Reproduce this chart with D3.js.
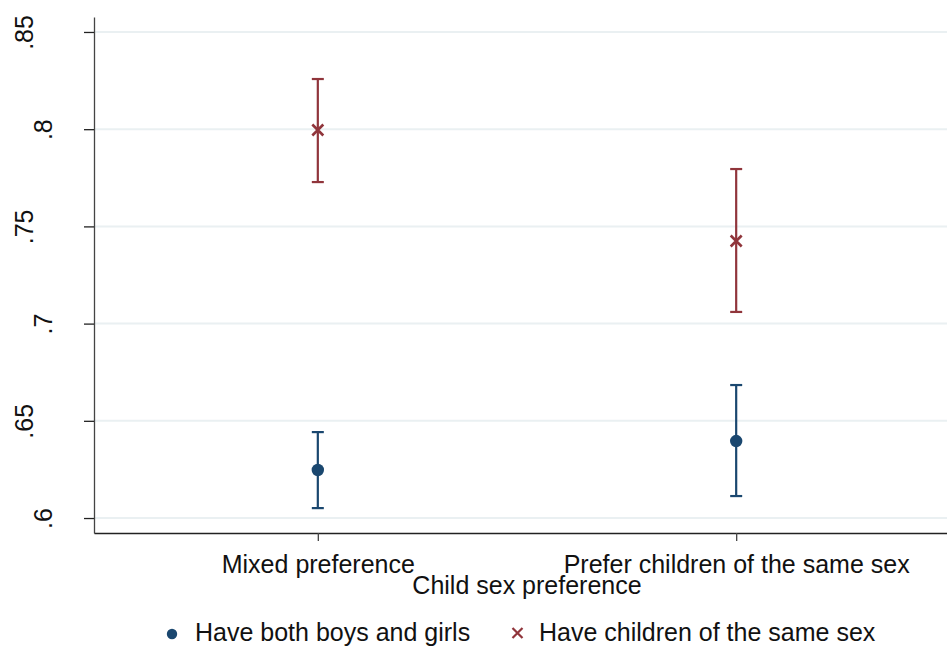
<!DOCTYPE html>
<html>
<head>
<meta charset="utf-8">
<script src="https://cdn.jsdelivr.net/npm/d3@7"></script>
<style>
  html, body { margin: 0; padding: 0; background: #fff; }
  svg { display: block; font-family: "Liberation Sans", Arial, Helvetica, sans-serif; }
</style>
</head>
<body>
<svg id="chart" width="947" height="647"></svg>
<script>
// Categories on the x axis (positions 1 and 2)
const categories = ["Mixed preference", "Prefer children of the same sex"];
const categoryPos = [1, 2];

// Predicted margins with 95% confidence intervals
const series = ["Have both boys and girls", "Have children of the same sex"];
const bothEstimate = [0.6247, 0.6396];
const bothLower    = [0.6051, 0.6113];
const bothUpper    = [0.6442, 0.6684];
const sameEstimate = [0.7996, 0.7425];
const sameLower    = [0.7728, 0.7060];
const sameUpper    = [0.8258, 0.7795];

// Y axis ticks
const yTicks = [0.6, 0.65, 0.7, 0.75, 0.8, 0.85];
const yTickLabels = [".6", ".65", ".7", ".75", ".8", ".85"];

const xTitle = "Child sex preference";

const colors = { both: "#1a476f", same: "#90353b" };

const svg = d3.select("#chart");
const plot = { left: 94, right: 960, top: 17, bottom: 533 };

const x = d3.scaleLinear().domain([0.465, 2.535]).range([plot.left, plot.right]);
const y = d3.scaleLinear().domain([0.5923, 0.8577]).range([plot.bottom, plot.top]);

// Gridlines
svg.append("g")
  .selectAll("line")
  .data(yTicks)
  .join("line")
  .attr("x1", plot.left + 1)
  .attr("x2", plot.right)
  .attr("y1", d => y(d))
  .attr("y2", d => y(d))
  .attr("stroke", "#eaf0f2")
  .attr("stroke-width", 2);

// Y axis
const yAxis = svg.append("g")
  .attr("transform", `translate(${plot.left},0)`)
  .call(d3.axisLeft(y).tickValues(yTicks).tickSize(10).tickSizeOuter(0)
    .tickFormat((d, i) => yTickLabels[i]));
yAxis.select(".domain").attr("stroke", "#444").attr("stroke-width", 1.3);
yAxis.selectAll(".tick line").attr("stroke", "#222").attr("stroke-width", 1.3);
yAxis.selectAll(".tick text")
  .attr("font-size", 25)
  .attr("fill", "#111")
  .attr("text-anchor", "middle")
  .attr("dy", 0)
  .attr("transform", (d, i) => {
    const bx = yTickLabels[i].length > 2 ? 33 : 52;
    return `translate(${bx - plot.left},0) rotate(-90)`;
  })
  .attr("x", 0)
  .attr("y", 0);

// X axis
const xAxis = svg.append("g")
  .attr("transform", `translate(0,${plot.bottom})`)
  .call(d3.axisBottom(x).tickValues(categoryPos).tickSize(8).tickSizeOuter(0)
    .tickFormat((d, i) => categories[i]));
xAxis.select(".domain").attr("stroke", "#222").attr("stroke-width", 1.3);
xAxis.selectAll(".tick line").attr("stroke", "#444").attr("stroke-width", 1.3);
xAxis.selectAll(".tick text")
  .attr("font-size", 25)
  .attr("fill", "#111")
  .attr("dy", 0)
  .attr("y", 40);

// X axis title
svg.append("text")
  .attr("x", (plot.left + plot.right) / 2)
  .attr("y", 594)
  .attr("text-anchor", "middle")
  .attr("font-size", 25)
  .attr("fill", "#111")
  .text(xTitle);

// Error bars with caps
function drawBars(est, lo, hi, color) {
  const g = svg.append("g").attr("stroke", color).attr("stroke-width", 2.2);
  categoryPos.forEach((p, i) => {
    const cx = x(p);
    g.append("line").attr("x1", cx).attr("x2", cx).attr("y1", y(lo[i])).attr("y2", y(hi[i]));
    g.append("line").attr("x1", cx - 6).attr("x2", cx + 6).attr("y1", y(lo[i])).attr("y2", y(lo[i]));
    g.append("line").attr("x1", cx - 6).attr("x2", cx + 6).attr("y1", y(hi[i])).attr("y2", y(hi[i]));
  });
}
drawBars(bothEstimate, bothLower, bothUpper, colors.both);
drawBars(sameEstimate, sameLower, sameUpper, colors.same);

// Point markers
svg.append("g")
  .selectAll("circle")
  .data(bothEstimate)
  .join("circle")
  .attr("cx", (d, i) => x(categoryPos[i]))
  .attr("cy", d => y(d))
  .attr("r", 6.2)
  .attr("fill", colors.both);

const cross = (cx, cy, s) => `M${cx - s},${cy - s}L${cx + s},${cy + s}M${cx - s},${cy + s}L${cx + s},${cy - s}`;
svg.append("g")
  .selectAll("path")
  .data(sameEstimate)
  .join("path")
  .attr("d", (d, i) => cross(x(categoryPos[i]), y(d), 5.5))
  .attr("stroke", colors.same)
  .attr("stroke-width", 2.6)
  .attr("fill", "none");

// Legend
const legend = svg.append("g");
legend.append("circle").attr("cx", 172).attr("cy", 634).attr("r", 5.2).attr("fill", colors.both);
legend.append("text").attr("x", 195).attr("y", 641).attr("font-size", 25).attr("fill", "#111").text(series[0]);
legend.append("path").attr("d", cross(517.5, 633, 5)).attr("stroke", colors.same).attr("stroke-width", 2.2).attr("fill", "none");
legend.append("text").attr("x", 539).attr("y", 641).attr("font-size", 25).attr("fill", "#111").text(series[1]);
</script>
</body>
</html>
